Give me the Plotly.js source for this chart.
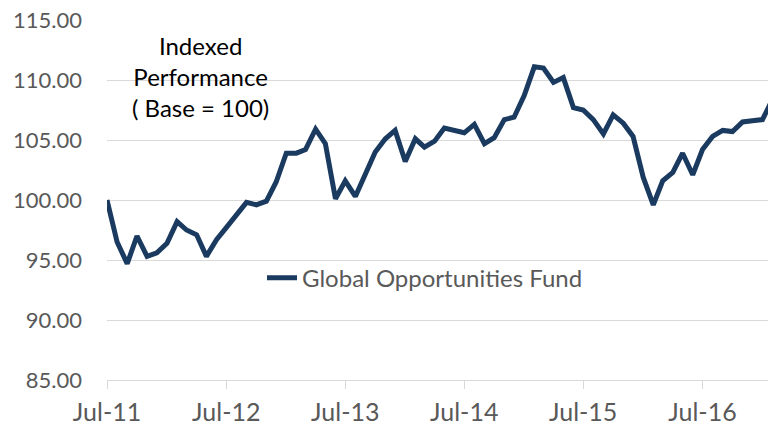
<!DOCTYPE html>
<html>
<head>
<meta charset="utf-8">
<script src="https://cdn.plot.ly/plotly-3.0.1.min.js"></script>
<style>
html,body{margin:0;padding:0;background:#fff;}
#chart{width:768px;height:425px;}
</style>
</head>
<body>
<div id="chart"></div>
<script>
var months = [
"2011-07-01","2011-08-01","2011-09-01","2011-10-01","2011-11-01","2011-12-01",
"2012-01-01","2012-02-01","2012-03-01","2012-04-01","2012-05-01","2012-06-01",
"2012-07-01","2012-08-01","2012-09-01","2012-10-01","2012-11-01","2012-12-01",
"2013-01-01","2013-02-01","2013-03-01","2013-04-01","2013-05-01","2013-06-01",
"2013-07-01","2013-08-01","2013-09-01","2013-10-01","2013-11-01","2013-12-01",
"2014-01-01","2014-02-01","2014-03-01","2014-04-01","2014-05-01","2014-06-01",
"2014-07-01","2014-08-01","2014-09-01","2014-10-01","2014-11-01","2014-12-01",
"2015-01-01","2015-02-01","2015-03-01","2015-04-01","2015-05-01","2015-06-01",
"2015-07-01","2015-08-01","2015-09-01","2015-10-01","2015-11-01","2015-12-01",
"2016-01-01","2016-02-01","2016-03-01","2016-04-01","2016-05-01","2016-06-01",
"2016-07-01","2016-08-01","2016-09-01","2016-10-01","2016-11-01","2016-12-01",
"2017-01-01","2017-02-01"
];
var fundValues = [
100.0, 96.5, 94.7, 97.0, 95.3, 95.6,
96.4, 98.2, 97.5, 97.1, 95.3, 96.7,
97.7, 98.8, 99.8, 99.6, 99.9, 101.5,
103.9, 103.9, 104.2, 105.9, 104.7, 100.1,
101.6, 100.3, 102.1, 104.0, 105.1, 105.8,
103.2, 105.1, 104.4, 104.9, 106.0, 105.8,
105.6, 106.3, 104.7, 105.2, 106.7, 106.9,
108.7, 111.1, 111.0, 109.8, 110.2, 107.7,
107.5, 106.7, 105.5, 107.1, 106.4, 105.3,
101.9, 99.6, 101.6, 102.3, 103.9, 102.1,
104.2, 105.3, 105.8, 105.7, 106.5, 106.6,
106.7, 108.4
];
var seriesName = "Global Opportunities Fund";
var noteText = "Indexed<br>Performance<br>( Base = 100)";

var FONT = "Lato, 'Liberation Sans', sans-serif";

var trace = {
  x: months,
  y: fundValues,
  type: "scatter",
  mode: "lines",
  name: seriesName,
  line: {color: "#1a3a60", width: 5},
  showlegend: true
};

var layout = {
  width: 768,
  height: 425,
  margin: {l: 107, r: 0, t: 20, b: 45, pad: 0},
  paper_bgcolor: "#ffffff",
  plot_bgcolor: "#ffffff",
  font: {family: FONT, color: "#595959", size: 22},
  xaxis: {
    type: "date",
    range: ["2011-07-01", "2017-01-18"],
    tick0: "2011-07-01",
    dtick: "M12",
    tickformat: "%b-%y",
    ticks: "outside",
    ticklen: 8,
    tickcolor: "#d9d9d9",
    tickwidth: 1,
    showline: true,
    linecolor: "#d9d9d9",
    linewidth: 1,
    showgrid: false,
    zeroline: false,
    ticklabelstandoff: 2,
    tickfont: {family: FONT, size: 25, color: "#595959"}
  },
  yaxis: {
    range: [85, 115],
    dtick: 5,
    tick0: 85,
    tickformat: ".2f",
    showgrid: true,
    gridcolor: "#d9d9d9",
    gridwidth: 1,
    zeroline: false,
    showline: false,
    ticks: "",
    ticklabelstandoff: 24,
    tickfont: {family: FONT, size: 22, color: "#595959"}
  },
  showlegend: true,
  legend: {
    x: 0.2345,
    y: 0.283,
    xanchor: "left",
    yanchor: "middle",
    bgcolor: "rgba(0,0,0,0)",
    font: {family: FONT, size: 24, color: "#595959"},
    itemwidth: 30
  },
  annotations: [{
    xref: "paper", yref: "paper",
    x: 0.141, y: 0.974,
    xanchor: "center", yanchor: "top",
    text: noteText,
    showarrow: false,
    align: "center",
    font: {family: FONT, size: 24, color: "#000000"}
  }]
};

Plotly.newPlot("chart", [trace], layout, {displayModeBar: false, staticPlot: true});
</script>
</body>
</html>
